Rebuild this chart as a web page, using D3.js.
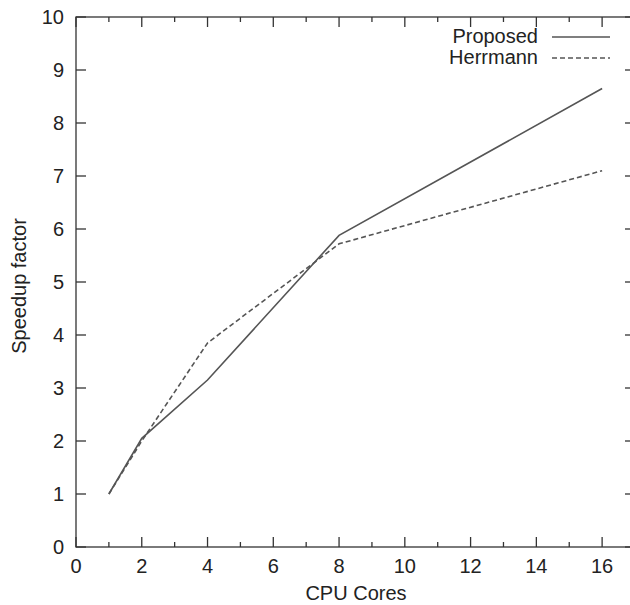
<!DOCTYPE html>
<html><head><meta charset="utf-8">
<script src="https://cdn.jsdelivr.net/npm/d3@7"></script>
<style>body{margin:0;background:#fff}svg{display:block}</style>
</head><body>
<script>
const cores = [1, 2, 4, 8, 16];
const proposed = [1, 2.05, 3.15, 5.88, 8.65];
const herrmann = [1, 2.0, 3.85, 5.72, 7.1];
const xTicks = [0, 2, 4, 6, 8, 10, 12, 14, 16];
const yTicks = [0, 1, 2, 3, 4, 5, 6, 7, 8, 9, 10];
const seriesNames = ["Proposed", "Herrmann"];

const W = 630, H = 605;
const L = 76, T = 17, R = 635, B = 547;
const svg = d3.select("body").append("svg").attr("width", W).attr("height", H);
const x = d3.scaleLinear().domain([0, 17]).range([L, R]);
const y = d3.scaleLinear().domain([0, 10]).range([B, T]);
const axisColor = "#333";
const font = "Liberation Sans, Arial, sans-serif";
const fs = 20;

svg.append("rect").attr("x", L).attr("y", T).attr("width", R - L).attr("height", B - T)
  .attr("fill", "none").attr("stroke", axisColor).attr("stroke-width", 1.3);

const minorX = d3.range(1, 17, 2);
const g = svg.append("g").attr("stroke", axisColor).attr("stroke-width", 1.3);
xTicks.forEach(v => {
  g.append("line").attr("x1", x(v)).attr("x2", x(v)).attr("y1", B).attr("y2", B - 10);
  g.append("line").attr("x1", x(v)).attr("x2", x(v)).attr("y1", T).attr("y2", T + 10);
});
minorX.forEach(v => {
  g.append("line").attr("x1", x(v)).attr("x2", x(v)).attr("y1", B).attr("y2", B - 5);
  g.append("line").attr("x1", x(v)).attr("x2", x(v)).attr("y1", T).attr("y2", T + 5);
});
yTicks.forEach(v => {
  g.append("line").attr("x1", L).attr("x2", L + 10).attr("y1", y(v)).attr("y2", y(v));
  g.append("line").attr("x1", R).attr("x2", R - 10).attr("y1", y(v)).attr("y2", y(v));
});

const tl = svg.append("g").attr("font-family", font).attr("font-size", fs).attr("fill", "#222");
xTicks.forEach(v => {
  tl.append("text").attr("x", x(v)).attr("y", 573).attr("text-anchor", "middle").text(v);
});
yTicks.forEach(v => {
  tl.append("text").attr("x", L - 12).attr("y", y(v) + 7).attr("text-anchor", "end").text(v);
});

svg.append("text").attr("x", 356).attr("y", 600).attr("text-anchor", "middle")
  .attr("font-family", font).attr("font-size", fs).attr("fill", "#222").text("CPU Cores");
svg.append("text").attr("transform", "translate(26,286) rotate(-90)").attr("text-anchor", "middle")
  .attr("font-family", font).attr("font-size", fs).attr("fill", "#222").text("Speedup factor");

const line = d3.line().x(d => x(d[0])).y(d => y(d[1]));
const data = [proposed, herrmann];
const dashes = [null, "5,3"];
data.forEach((s, i) => {
  svg.append("path").datum(cores.map((c, j) => [c, s[j]]))
    .attr("d", line).attr("fill", "none").attr("stroke", "#555").attr("stroke-width", 1.6)
    .attr("stroke-dasharray", dashes[i]);
});

seriesNames.forEach((n, i) => {
  const yy = 37 + i * 21;
  svg.append("text").attr("x", 538).attr("y", yy + 6).attr("text-anchor", "end")
    .attr("font-family", font).attr("font-size", fs).attr("fill", "#222").text(n);
  svg.append("line").attr("x1", 552).attr("x2", 610).attr("y1", yy).attr("y2", yy)
    .attr("stroke", "#555").attr("stroke-width", 1.6).attr("stroke-dasharray", dashes[i]);
});
</script>
</body></html>
